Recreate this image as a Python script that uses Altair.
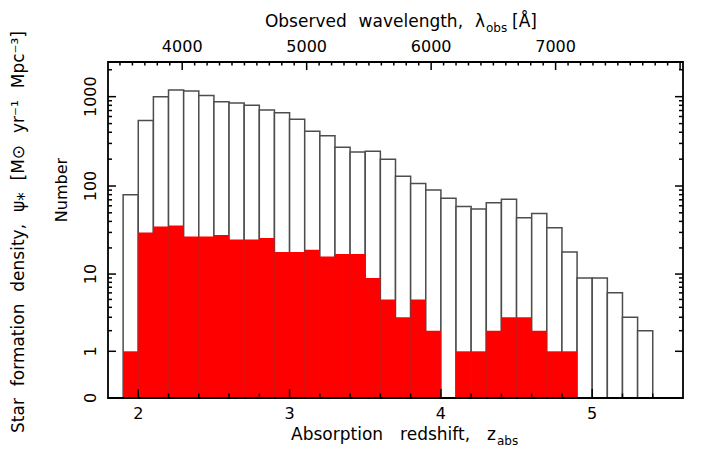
import altair as alt
import pandas as pd

# ---- data (histogram, bin width 0.1 in z) ----
z_lo = [1.9, 2.0, 2.1, 2.2, 2.3, 2.4, 2.5, 2.6, 2.7, 2.8, 2.9, 3.0, 3.1, 3.2, 3.3,
        3.4, 3.5, 3.6, 3.7, 3.8, 3.9, 4.0, 4.1, 4.2, 4.3, 4.4, 4.5, 4.6, 4.7, 4.8,
        4.9, 5.0, 5.1, 5.2, 5.3]
n_all = [80, 540, 1000, 1190, 1160, 1030, 880, 850, 800, 710,
         660, 560, 410, 365, 272, 240, 245, 200, 129, 107,
         90, 73, 59, 55, 65, 71, 44, 49, 34, 18,
         9, 9, 6, 3, 2]
n_sub = [1, 30, 35, 36, 27, 27, 28, 25, 25, 26,
         18, 18, 19, 16, 17, 17, 9, 5, 3, 5,
         2, 0, 1, 1, 2, 3, 3, 2, 1, 1,
         0, 0, 0, 0, 0]
BIN = 0.1

# ---- axis tick values ----
x_major = [2, 3, 4, 5]
x_minor = [2.2, 2.4, 2.6, 2.8, 3.2, 3.4, 3.6, 3.8, 4.2, 4.4, 4.6, 4.8, 5.2, 5.4]
lam_major = [4000, 5000, 6000, 7000, 8000]
lam_minor = [3500, 3600, 3700, 3800, 3900, 4100, 4200, 4300, 4400, 4500, 4600, 4700,
             4800, 4900, 5100, 5200, 5300, 5400, 5500, 5600, 5700, 5800, 5900, 6100,
             6200, 6300, 6400, 6500, 6600, 6700, 6800, 6900, 7100, 7200, 7300, 7400,
             7500, 7600, 7700, 7800, 7900]
lam_labels = [4000, 5000, 6000, 7000]
y_major = [1, 10, 100, 1000]
y_minor = [2, 3, 4, 5, 6, 7, 8, 9, 20, 30, 40, 50, 60, 70, 80, 90,
           200, 300, 400, 500, 600, 700, 800, 900, 2000]
y_labels = [0, 1, 10, 100, 1000]
LYA = 1215.67

W, H = 575, 336
FONT = "DejaVu Sans"
FS = 16
TFS = 17

df = pd.DataFrame({
    "z_lo": z_lo,
    "z_hi": [round(z + BIN, 2) for z in z_lo],
    "n_all": n_all,
    "n_sub": n_sub,
})

xs = alt.Scale(domain=[1.8, 5.6], nice=False, zero=False)
ys = alt.Scale(type="symlog", constant=0.43, domain=[0, 2440], nice=False)


def X(f):
    return alt.X(f, type="quantitative", scale=xs, axis=None)


def Y(f):
    return alt.Y(f, type="quantitative", scale=ys, axis=None)


white = alt.Chart(df).mark_rect(fill="white", stroke="#4d4d4d", strokeWidth=1.5).encode(
    x=X("z_lo"), x2="z_hi", y=Y("n_all"), y2=alt.datum(0)
)
red = alt.Chart(df).transform_filter("datum.n_sub > 0").mark_rect(fill="#ff0000").encode(
    x=X("z_lo"), x2="z_hi", y=Y("n_sub"), y2=alt.datum(0)
)


def vrule(values, y0, y1, lam=False):
    c = alt.Chart(pd.DataFrame({"v": values}))
    if lam:
        c = c.transform_calculate(z=f"datum.v / {LYA} - 1")
        xf = "z"
    else:
        xf = "v"
    return c.mark_rule(color="black", strokeWidth=1.5).encode(
        x=X(xf), y=alt.value(y0), y2=alt.value(y1)
    )


def hrule(values, x0, x1):
    return alt.Chart(pd.DataFrame({"v": values})).mark_rule(color="black", strokeWidth=1.5).encode(
        y=Y("v"), x=alt.value(x0), x2=alt.value(x1)
    )


ticks = [
    vrule(x_major, H, H - 9),
    vrule(x_minor, H, H - 4.5),
    vrule(lam_major, 0, 8, lam=True),
    vrule(lam_minor, 0, 3.5, lam=True),
    hrule(y_major, 0, 8),
    hrule(y_minor, 0, 4),
    hrule(y_major, W, W - 8),
    hrule(y_minor, W, W - 4),
]

frame = alt.Chart(pd.DataFrame({"a": [0]})).mark_rect(
    fillOpacity=0, stroke="black", strokeWidth=1.8
).encode(x=alt.value(0), x2=alt.value(W), y=alt.value(0), y2=alt.value(H))

bottom_lab = alt.Chart(pd.DataFrame({"v": x_major})).mark_text(
    font=FONT, fontSize=FS, align="center", baseline="alphabetic", color="black"
).encode(x=X("v"), y=alt.value(H + 21), text=alt.Text("v:Q", format="d"))

top_lab = alt.Chart(pd.DataFrame({"v": lam_labels})).transform_calculate(
    z=f"datum.v / {LYA} - 1"
).mark_text(
    font=FONT, fontSize=FS, align="center", baseline="alphabetic", color="black"
).encode(x=X("z"), y=alt.value(-10), text=alt.Text("v:Q", format="d"))

left_lab = alt.Chart(pd.DataFrame({"v": y_labels})).mark_text(
    font=FONT, fontSize=FS, align="center", baseline="middle", angle=270, color="black"
).encode(y=Y("v"), x=alt.value(-17), text=alt.Text("v:Q", format="d"))

one = pd.DataFrame({"a": [0]})
EM = "\u2003"
WIDE = "\u2002\u2009"


def label(text, x, y, size=TFS, align="left", angle=0, baseline="alphabetic"):
    return alt.Chart(one).mark_text(
        text=text, font=FONT, fontSize=size, align=align, baseline=baseline,
        angle=angle, color="black"
    ).encode(x=alt.value(x), y=alt.value(y))


titles = [
    label(f"Absorption{EM}redshift,{EM}z", 388, H + 42, align="right"),
    label("abs", 389, H + 47, size=12),
    label(f"Observed{WIDE}wavelength,{WIDE}\u03bb", 377, -35, align="right"),
    label("obs", 378, -30, size=12),
    label("[\u00c5]", 404, -35),
    label("Number", -46, 128, size=FS, align="center", angle=270, baseline="middle"),
    label(f"Star{WIDE}formation{WIDE}density,{WIDE}\u03c8\u204e{WIDE}[M\u2299{WIDE}yr\u207b\u00b9{WIDE}Mpc\u207b\u00b3]",
          -89, 170, align="center", angle=270, baseline="middle"),
]

chart = alt.layer(white, red, *ticks, frame, bottom_lab, top_lab, left_lab, *titles).properties(
    width=W,
    height=H,
    autosize=alt.AutoSizeParams(type="none"),
    padding={"left": 100, "top": 54, "right": 11, "bottom": 49},
).configure_view(stroke="transparent")

chart.save("out.html", embed_options={"renderer": "svg", "actions": False})
